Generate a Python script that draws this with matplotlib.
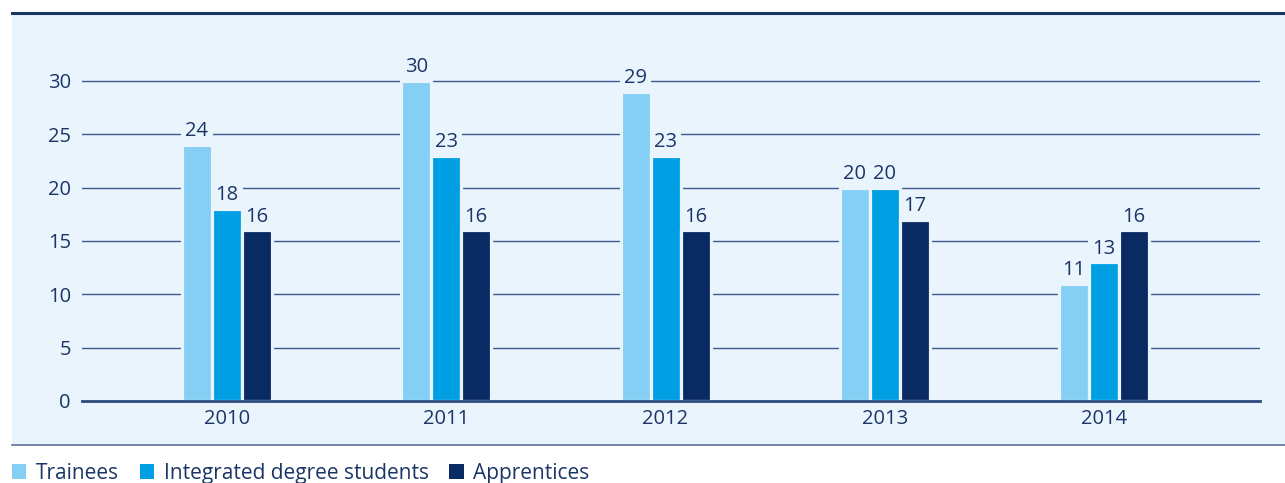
import matplotlib.pyplot as plt
from matplotlib.patches import Patch
import numpy as np

years = ['2010', '2011', '2012', '2013', '2014']
trainees = [24, 30, 29, 20, 11]
degree_students = [18, 23, 23, 20, 13]
apprentices = [16, 16, 16, 17, 16]
series_names = ['Trainees', 'Integrated degree students', 'Apprentices']
series_colors = ['#84CFF3', '#009FE3', '#0A2A64']

panel_bg = '#EAF4FD'
text_color = '#1B3566'
grid_color = '#3A5A8C'

plt.rcParams['font.family'] = ['Open Sans', 'DejaVu Sans']

W, H = 1285, 483
fig = plt.figure(figsize=(W / 100, H / 100), dpi=100)

# light blue panel behind the chart, with dark rule on top and thin rule below
bg = fig.add_axes([12 / W, 1 - 445 / H, (W - 12) / W, (445 - 13) / H], zorder=-1)
bg.set_facecolor(panel_bg)
bg.set_xticks([])
bg.set_yticks([])
for s in bg.spines.values():
    s.set_visible(False)
fig.add_artist(plt.Line2D([12 / W, 1], [1 - 13 / H] * 2, color='#1B3566', lw=2.2))
fig.add_artist(plt.Line2D([12 / W, 1], [1 - 445 / H] * 2, color='#5C7399', lw=1.2))

# axes: y=0 at px 401, y=30 at px 81
y0_px, y30_px = 401, 81
ppu = (y0_px - y30_px) / 30.0
ymax = 34.0
ax_top_px = y0_px - ymax * ppu
ax = fig.add_axes([82 / W, 1 - y0_px / H, (1260 - 82) / W, (y0_px - ax_top_px) / H])
ax.set_facecolor('none')

x = np.arange(len(years))
offset = 30 / 219.3
width = 30 / 219.3
for i, (vals, color) in enumerate(zip([trainees, degree_students, apprentices], series_colors)):
    pos = x + (i - 1) * offset
    bars = ax.bar(pos, vals, width, color=color, edgecolor=panel_bg, linewidth=2.3, zorder=3)
    for b, v in zip(bars, vals):
        ax.text(b.get_x() + b.get_width() / 2, v + 0.35, str(v), ha='center', va='bottom',
                fontsize=14.5, color=text_color, zorder=4,
                bbox=dict(facecolor=panel_bg, edgecolor='none', pad=3.0))

ax.set_xlim(-0.661, len(years) - 1 + 0.711)
ax.set_ylim(0, ymax)
ax.set_yticks([0, 5, 10, 15, 20, 25, 30])
ax.set_xticks(x)
ax.set_xticklabels(years)
ax.yaxis.grid(True, color=grid_color, linewidth=1.0, zorder=1)
ax.set_axisbelow(True)
for s in ['top', 'right', 'left']:
    ax.spines[s].set_visible(False)
ax.spines['bottom'].set_color('#2B4A7E')
ax.spines['bottom'].set_linewidth(2)
ax.spines['bottom'].set_zorder(5)
ax.tick_params(axis='both', length=0, labelsize=14.5, labelcolor=text_color)
ax.tick_params(axis='y', pad=8)
ax.tick_params(axis='x', pad=6)

# legend along the bottom
handles = [Patch(facecolor=c, edgecolor='none') for c in series_colors]
fig.legend(handles, series_names, loc='lower left', bbox_to_anchor=(-7 / W, -0.04), ncol=3,
           frameon=False, fontsize=15, handlelength=0.7, handleheight=0.7, handletextpad=0.45,
           columnspacing=1.0, labelcolor=text_color)

fig.savefig('out.png', dpi=100, facecolor='white')
